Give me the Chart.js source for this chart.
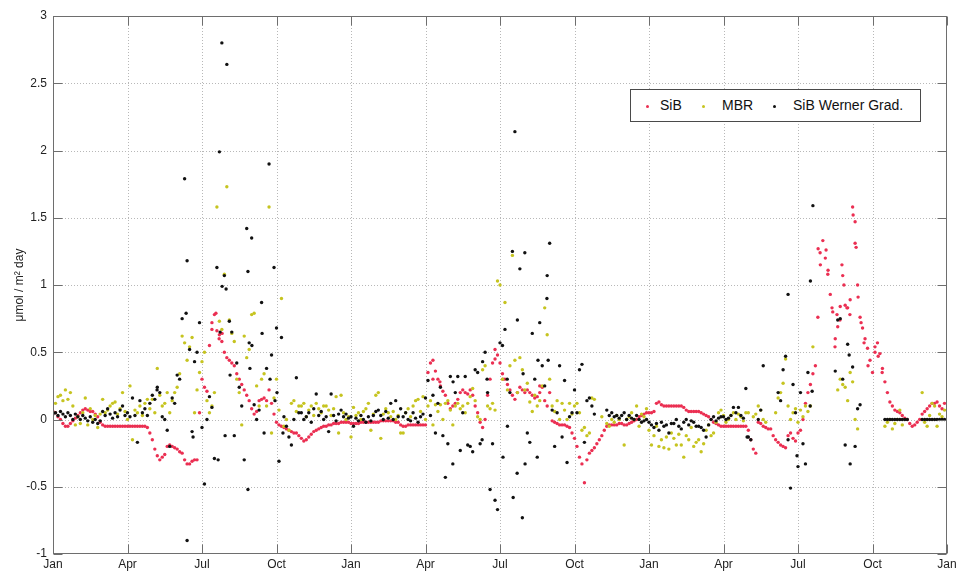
<!DOCTYPE html>
<html>
<head>
<meta charset="utf-8">
<title>SiB / MBR / SiB Werner Grad.</title>
<script src="https://cdn.jsdelivr.net/npm/chart.js@4/dist/chart.umd.min.js"></script>
<style>
  body { margin: 0; background: #fff; }
  #wrap { position: relative; width: 957px; height: 572px; }
  #legend {
    position: absolute; left: 630px; top: 89px; width: 289px; height: 31px;
    border: 1px solid #4a4a4a; background: #fff;
    font-family: 'Liberation Sans', Arial, sans-serif; font-size: 14px; color: #111;
  }
  #legend span { position: absolute; top: 7px; }
  #legend i { position: absolute; top: 15px; width: 3px; height: 3px; border-radius: 50%; }
</style>
</head>
<body>
<div id="wrap">
  <canvas id="chart" width="957" height="572"></canvas>
  <div id="legend">
    <i style="left:15px;background:#eb2f52"></i><span style="left:29px">SiB</span>
    <i style="left:71px;background:#c6c420"></i><span style="left:91px">MBR</span>
    <i style="left:142px;background:#111"></i><span style="left:162px">SiB Werner Grad.</span>
  </div>
</div>
<script>
// x runs in months from the first Jan; ten samples per month
const STEP = 0.1;
const tickLabels = ['Jan', 'Apr', 'Jul', 'Oct', 'Jan', 'Apr', 'Jul', 'Oct', 'Jan', 'Apr', 'Jul', 'Oct', 'Jan'];

const sib = [
  0.06, 0.05, 0.02, 0.0, -0.03, -0.05, -0.05, -0.03, -0.01, 0.01,
  0.03, 0.05, 0.07, 0.08, 0.07, 0.06, 0.06, 0.04, 0.02, -0.02,
  -0.04, -0.05, -0.05, -0.05, -0.05, -0.05, -0.05, -0.05, -0.05, -0.05,
  -0.05, -0.05, -0.05, -0.05, -0.05, -0.05, -0.05, -0.05, -0.06, -0.1,
  -0.15, -0.22, -0.27, -0.3, -0.28, -0.26, -0.2, -0.19, -0.2, -0.21,
  -0.22, -0.24, -0.25, -0.3, -0.33, -0.33, -0.31, -0.3, -0.3, 0.05,
  0.3, 0.24, 0.21, 0.55, 0.72, 0.78, 0.66, 0.63, 0.58, 0.5,
  0.46, 0.44, 0.42, 0.4, 0.34, 0.3, 0.26, 0.22, 0.18, 0.14,
  0.08, 0.04, 0.06, 0.14, 0.15, 0.16, 0.14, 0.22, 0.12, 0.04,
  -0.02, -0.04, -0.05, -0.06, -0.07, -0.08, -0.09, -0.1, -0.1, -0.12,
  -0.14, -0.16, -0.15, -0.13, -0.11, -0.09, -0.08, -0.07, -0.06, -0.05,
  -0.05, -0.04, -0.04, -0.03, -0.03, -0.03, -0.02, -0.02, -0.02, -0.02,
  -0.03, -0.03, -0.03, -0.03, -0.02, -0.02, -0.02, -0.02, -0.02, -0.02,
  -0.02, -0.02, -0.01, -0.01, -0.01, -0.01, -0.01, -0.01, -0.02, -0.02,
  -0.04, -0.05, -0.05, -0.04, -0.04, -0.04, -0.04, -0.04, -0.04, -0.04,
  -0.04, 0.35, 0.42, 0.44, 0.36, 0.3, 0.25, 0.21, 0.18, 0.12,
  0.08, 0.1, 0.12, 0.15, 0.2, 0.22, 0.2, 0.19, 0.22, 0.18,
  0.1, 0.05, -0.02, -0.06, 0.0, 0.18, 0.3, 0.42, 0.52, 0.48,
  0.42, 0.34, 0.3, 0.26, 0.22, 0.18, 0.15, 0.2, 0.24, 0.22,
  0.2, 0.22, 0.2, 0.18, 0.16, 0.17, 0.2, 0.24, 0.14, 0.1,
  0.2, -0.01, -0.02, -0.03, -0.04, -0.04, -0.04, -0.05, -0.06, -0.1,
  -0.14, -0.2, -0.28, -0.33, -0.47, -0.3, -0.25, -0.23, -0.21, -0.18,
  -0.15, -0.12, -0.08, -0.05, -0.04, -0.04, -0.04, -0.04, -0.03, -0.03,
  -0.04, -0.04, -0.03, -0.02, -0.01, 0.0, 0.02, 0.03, 0.04, 0.05,
  0.05, 0.05, 0.06, 0.12, 0.13, 0.11, 0.1, 0.1, 0.1, 0.1,
  0.1, 0.1, 0.1, 0.1, 0.09, 0.07, 0.06, 0.06, 0.06, 0.06,
  0.06, 0.05, 0.04, 0.03, 0.02, 0.0, -0.02, -0.03, -0.04, -0.05,
  -0.05, -0.05, -0.05, -0.05, -0.05, -0.05, -0.05, -0.05, -0.05, -0.05,
  -0.08, -0.15, -0.22, -0.25, -0.02, -0.03, -0.05, -0.06, -0.07, -0.07,
  -0.12, -0.15, -0.17, -0.19, -0.2, -0.21, -0.12, -0.1, -0.14, -0.16,
  -0.1, -0.08, 0.0, 0.12, 0.2, 0.26, 0.34, 0.4, 0.76, 1.15,
  1.33, 1.2, 1.08, 0.93, 0.8, 0.6, 0.69, 0.84, 1.07, 0.85,
  0.83, 0.89, 1.58, 1.31, 1.0, 0.76, 0.68, 0.6, 0.53, 0.44,
  0.35, 0.54, 0.57, 0.49, 0.38, 0.28, 0.2, 0.13, 0.1, 0.07,
  0.06, 0.05, 0.03, 0.01, 0.0, -0.03, -0.05, -0.04, -0.02, 0.0,
  0.04, 0.06, 0.08, 0.1, 0.12, 0.12, 0.13, 0.1, 0.08, 0.12
];
// days with more than one SiB value
const sibExtraX = [6.4, 6.56, 6.69, 6.81, 15.3, 15.58, 17.8, 18.12, 19.6,
  30.81, 30.89, 31.13, 31.21, 31.37, 31.49, 31.57, 31.69, 31.77, 31.85, 31.97,
  32.09, 32.22, 32.3, 32.34, 32.42, 32.54, 32.66, 32.82, 33.1, 33.23, 33.39];
const sibExtraY = [0.67, 0.79, 0.6, 0.64, 0.3, 0.28, 0.45, 0.3, 0.25,
  1.27, 1.24, 1.26, 1.11, 0.83, 0.54, 0.78, 0.74, 1.15, 1.0, 0.83,
  0.78, 1.52, 1.47, 1.28, 0.91, 0.72, 0.57, 0.4, 0.5, 0.47, 0.35];

const mbr = [
  0.05, 0.12, 0.17, 0.18, 0.14, 0.22, 0.15, 0.2, 0.1, -0.04,
  0.02, -0.03, 0.05, 0.16, -0.04, 0.08, 0.0, 0.03, -0.06, 0.04,
  0.15, 0.05, 0.07, 0.1, 0.12, 0.13, 0.04, 0.08, 0.2, 0.06,
  0.0, 0.25, -0.15, 0.07, 0.05, 0.1, 0.03, 0.12, 0.15, 0.08,
  0.15, 0.05, 0.38, 0.18, 0.1, 0.12, 0.2, 0.05, 0.14, 0.2,
  0.24, 0.34, 0.62, 0.57, 0.44, 0.54, 0.61, 0.05, 0.22, 0.35,
  0.43, 0.5, 0.14, 0.05, 0.1, 0.2, 1.58, 0.73, 0.67, 1.08,
  1.73, 0.74, 0.64, 0.58, 0.3, 0.2, -0.04, 0.62, 0.46, 0.52,
  0.78, 0.79, 0.25, 0.1, 0.3, 0.34, 0.1, 1.58, -0.1, 0.16,
  0.3, 0.07, 0.9, -0.05, 0.0, -0.08, 0.12, 0.14, 0.06, 0.1,
  0.1, 0.12, 0.02, 0.07, 0.1, 0.03, 0.12, 0.08, 0.05, 0.1,
  0.1, 0.07, 0.03, 0.08, 0.17, -0.1, 0.18, 0.05, 0.0, 0.02,
  -0.13, 0.09, 0.03, 0.05, 0.0, 0.06, 0.08, 0.12, -0.08, 0.04,
  0.18, 0.2, -0.14, 0.04, 0.08, 0.05, 0.02, 0.06, 0.0, 0.03,
  -0.1, -0.1, 0.05, 0.08, 0.02, 0.1, 0.14, 0.15, 0.06, 0.17,
  0.0, 0.1, 0.14, -0.04, 0.11, 0.06, 0.11, 0.0, 0.12, 0.14,
  0.07, -0.04, 0.1, 0.12, 0.08, 0.1, 0.05, 0.12, 0.17, 0.23,
  0.14, 0.02, 0.0, 0.37, 0.4, 0.1, 0.08, 0.12, 0.07, 1.03,
  1.0, 0.3, 0.87, 0.22, 0.4, 1.22, 0.44, 0.2, 0.46, 0.37,
  0.22, 0.27, 0.13, 0.06, 0.18, 0.1, 0.14, 0.25, 0.83, 0.63,
  0.3, 0.1, 0.06, 0.14, 0.0, 0.12, 0.07, 0.0, 0.12, 0.04,
  0.1, 0.12, 0.05, -0.08, -0.06, -0.12, -0.1, 0.16, 0.15, null,
  null, 0.02, null, -0.03, -0.05, 0.0, -0.02, 0.03, 0.0, null,
  -0.19, 0.0, 0.02, 0.05, 0.0, 0.1, -0.05, 0.04, 0.02, 0.08,
  -0.08, -0.19, -0.12, -0.05, -0.2, -0.15, -0.21, -0.13, -0.22, -0.1,
  -0.14, -0.19, -0.11, -0.19, -0.28, -0.12, -0.15, -0.06, -0.2, -0.17,
  -0.15, -0.24, -0.18, -0.08, -0.04, -0.12, -0.1, -0.02, 0.05, 0.07,
  0.03, -0.02, 0.0, 0.03, 0.05, 0.0, 0.04, 0.02, -0.01, 0.05,
  0.05, null, 0.02, 0.04, 0.1, 0.07, 0.0, -0.02, null, null,
  null, 0.05, 0.16, 0.2, 0.27, 0.45, 0.1, 0.0, 0.05, 0.08,
  -0.02, 0.07, 0.02, 0.1, 0.06, 0.1, 0.54, null, null, null,
  null, null, null, null, null, null, 0.22, 0.3, 0.26, 0.24,
  0.14, 0.35, 0.28, 0.0, -0.07, null, null, null, null, null,
  null, null, null, null, null, -0.05, -0.02, 0.0, -0.07, -0.03,
  0.0, 0.07, -0.04, null, null, null, null, null, null, null,
  0.2, -0.02, -0.05, 0.03, 0.12, 0.1, -0.05, 0.04, 0.02, 0.07
];

const werner = [
  0.04, 0.05, 0.03, 0.06, 0.04, 0.02, 0.05, 0.03, 0.0, 0.04,
  0.02, 0.0, 0.03, 0.01, -0.01, 0.02, -0.02, 0.0, -0.03, -0.01,
  0.06, 0.03, 0.08, 0.04, 0.01, 0.05, 0.02, 0.07, 0.1, 0.03,
  0.05, 0.02, 0.16, 0.03, -0.17, 0.14, 0.05, 0.08, 0.03, 0.12,
  0.18, 0.15, 0.24, 0.2, 0.02, 0.0, -0.08, -0.2, 0.16, 0.12,
  0.33, 0.3, 0.75, 1.79, -0.9, 0.52, -0.09, 0.43, 0.5, 0.72,
  -0.06, -0.48, 0.0, 0.17, 0.09, -0.29, 1.13, 1.99, 2.8, 1.07,
  2.64, 0.73, 0.65, -0.12, 0.42, 0.24, 0.1, -0.3, 1.42, 0.57,
  1.35, 0.11, 0.0, 0.07, 0.87, -0.1, 0.38, 1.9, 0.48, 1.13,
  0.68, -0.31, 0.61, 0.02, -0.05, -0.13, -0.19, 0.0, 0.31, 0.05,
  0.05, 0.0, 0.02, 0.05, -0.02, 0.08, 0.19, 0.03, 0.06, 0.0,
  0.02, -0.09, 0.19, 0.03, -0.01, 0.04, 0.07, 0.02, 0.04, 0.01,
  0.02, -0.05, 0.01, -0.01, 0.03, 0.0, -0.02, 0.02, -0.01, 0.03,
  0.06, 0.07, 0.03, 0.0, 0.06, 0.01, 0.12, 0.0, 0.14, 0.02,
  0.08, 0.02, 0.05, 0.0, -0.01, 0.05, 0.01, -0.02, 0.02, 0.04,
  0.16, 0.29, 0.03, 0.18, -0.1, 0.12, 0.24, -0.12, -0.43, -0.18,
  0.32, -0.33, 0.2, 0.32, -0.23, 0.05, 0.32, -0.19, -0.2, -0.24,
  0.37, 0.35, -0.18, 0.43, 0.5, 0.2, -0.52, -0.18, -0.6, -0.67,
  0.57, 0.55, 0.67, -0.05, 0.2, 1.25, 2.14, 0.74, 1.12, -0.73,
  1.24, -0.1, -0.17, 0.64, 0.3, -0.28, 0.72, 0.4, 0.25, 1.07,
  1.31, 0.07, -0.2, 0.05, 0.4, -0.13, 0.29, -0.32, 0.02, 0.05,
  0.22, 0.05, 0.37, 0.41, -0.17, 0.14, 0.16, 0.1, 0.04, null,
  null, null, null, 0.07, 0.03, 0.05, 0.02, 0.03, 0.01, 0.03,
  0.05, 0.0, 0.03, 0.01, 0.0, 0.03, 0.0, -0.02, -0.01, 0.0,
  -0.02, -0.04, -0.06, -0.03, -0.08, -0.02, -0.05, -0.04, -0.1, -0.03,
  -0.03, 0.0, -0.05, -0.07, -0.02, 0.0, -0.04, -0.01, -0.02, -0.05,
  -0.05, -0.06, -0.08, -0.13, -0.04, 0.0, 0.02, -0.01, 0.01, 0.02,
  0.02, 0.0, 0.01, 0.03, 0.09, 0.05, 0.09, 0.03, 0.01, 0.23,
  -0.13, -0.15, null, null, 0.0, 0.07, 0.4, null, null, null,
  null, null, 0.2, 0.14, 0.37, 0.47, 0.93, -0.51, 0.26, 0.05,
  -0.35, 0.2, -0.18, -0.33, 0.35, 1.03, 1.59, null, null, null,
  null, null, null, null, null, 0.36, 0.74, 0.75, 0.3, -0.19,
  0.56, -0.33, 0.39, -0.2, 0.08, 0.11, null, null, null, null,
  null, null, null, null, null, 0, 0, 0, 0, 0,
  0, 0, 0, 0, 0, null, null, null, null, null,
  0, 0, 0, 0, 0, 0, 0, 0, 0, 0
];
const wernerExtraX = [4.19, 5.36, 5.4, 5.64, 6.65, 6.73, 6.81, 6.93, 6.97, 7.13,
  7.85, 7.85, 7.93, 8.01, 8.42, 8.74, 8.94, 9.02, 9.26, 16.11,
  17.28, 17.48, 18.12, 18.29, 18.53, 18.69, 18.93, 19.01, 19.53, 19.89,
  19.94, 27.95, 29.6, 29.96, 30.49, 30.57, 32.06];
const wernerExtraY = [0.22, 0.79, 1.18, -0.13, -0.3, 0.65, 0.99, -0.12, 0.97, 0.33,
  -0.52, 1.1, 0.38, 0.55, 0.64, 0.3, 0.14, 0.2, -0.1, 0.28,
  -0.15, 0.3, -0.28, 0.3, -0.58, -0.4, 0.34, -0.33, 0.44, 0.9,
  0.44, -0.13, -0.15, -0.27, 0.1, 0.21, 0.48];

function toPoints(values, extraX = [], extraY = []) {
  const pts = [];
  values.forEach((v, i) => {
    if (v !== null) pts.push({ x: +(i * STEP).toFixed(2), y: v });
  });
  extraX.forEach((x, i) => pts.push({ x: x, y: extraY[i] }));
  return pts;
}

Chart.defaults.font.family = "'Liberation Sans', Arial, Helvetica, sans-serif";
Chart.defaults.color = '#222';

// dotted grid under the markers, boxed frame with inward ticks on top
const axesFrame = {
  id: 'axesFrame',
  beforeDatasetsDraw(chart) {
    const { ctx, chartArea: a, scales: { x, y } } = chart;
    ctx.save();
    ctx.strokeStyle = '#b8b8b8';
    ctx.lineWidth = 1;
    ctx.setLineDash([1, 2]);
    x.ticks.forEach(t => {
      const px = Math.round(x.getPixelForValue(t.value)) + 0.5;
      if (px < a.left + 2 || px > a.right - 2) return;
      ctx.beginPath(); ctx.moveTo(px, a.top); ctx.lineTo(px, a.bottom); ctx.stroke();
    });
    y.ticks.forEach(t => {
      const py = Math.round(y.getPixelForValue(t.value)) + 0.5;
      if (py < a.top + 2 || py > a.bottom - 2) return;
      ctx.beginPath(); ctx.moveTo(a.left, py); ctx.lineTo(a.right, py); ctx.stroke();
    });
    ctx.restore();
  },
  afterDatasetsDraw(chart) {
    const { ctx, chartArea: a, scales: { x, y } } = chart;
    const len = 9;
    const l = Math.round(a.left) + 0.5, r = Math.round(a.right) - 0.5;
    const t0 = Math.round(a.top) + 0.5, b = Math.round(a.bottom) - 0.5;
    ctx.save();
    ctx.strokeStyle = '#6e6e6e';
    ctx.lineWidth = 1;
    ctx.strokeRect(l, t0, r - l, b - t0);
    ctx.beginPath();
    x.ticks.forEach(t => {
      const px = Math.round(x.getPixelForValue(t.value)) + 0.5;
      ctx.moveTo(px, b); ctx.lineTo(px, b - len);
      ctx.moveTo(px, t0); ctx.lineTo(px, t0 + len);
    });
    y.ticks.forEach(t => {
      const py = Math.round(y.getPixelForValue(t.value)) + 0.5;
      ctx.moveTo(l, py); ctx.lineTo(l + len, py);
      ctx.moveTo(r, py); ctx.lineTo(r - len, py);
    });
    ctx.stroke();
    ctx.restore();
  }
};

const dot = { pointRadius: 1.7, pointHoverRadius: 1.7, pointBorderWidth: 0, showLine: false };

new Chart(document.getElementById('chart'), {
  type: 'scatter',
  data: {
    datasets: [
      { label: 'SiB Werner Grad.', data: toPoints(werner, wernerExtraX, wernerExtraY),
        backgroundColor: '#111111', order: 1, ...dot },
      { label: 'MBR', data: toPoints(mbr),
        backgroundColor: '#c6c420', order: 2, ...dot },
      { label: 'SiB', data: toPoints(sib, sibExtraX, sibExtraY),
        backgroundColor: '#eb2f52', order: 3, ...dot }
    ]
  },
  options: {
    responsive: false,
    animation: false,
    devicePixelRatio: 1,
    layout: { padding: { top: 16, right: 10, left: 0, bottom: 0 } },
    plugins: { legend: { display: false }, tooltip: { enabled: false } },
    scales: {
      x: {
        type: 'linear', min: 0, max: 36,
        grid: { display: false, drawTicks: false },
        border: { display: false },
        ticks: {
          stepSize: 3, padding: 3, maxRotation: 0, autoSkip: false,
          font: { size: 12 },
          callback: v => tickLabels[Math.round(v / 3)]
        },
        afterFit: s => { s.height = 18; s.paddingLeft = 0; s.paddingRight = 0; }
      },
      y: {
        min: -1, max: 3,
        grid: { display: false, drawTicks: false },
        border: { display: false },
        ticks: {
          stepSize: 0.5, padding: 6, font: { size: 12 },
          callback: v => String(Math.round(v * 10) / 10)
        },
        title: {
          display: true, text: 'μmol / m² day',
          font: { size: 12 }, padding: { top: 12, bottom: 0 }
        },
        afterFit: s => { s.width = 53; s.paddingTop = 0; s.paddingBottom = 0; }
      }
    }
  },
  plugins: [axesFrame]
});
</script>
</body>
</html>
